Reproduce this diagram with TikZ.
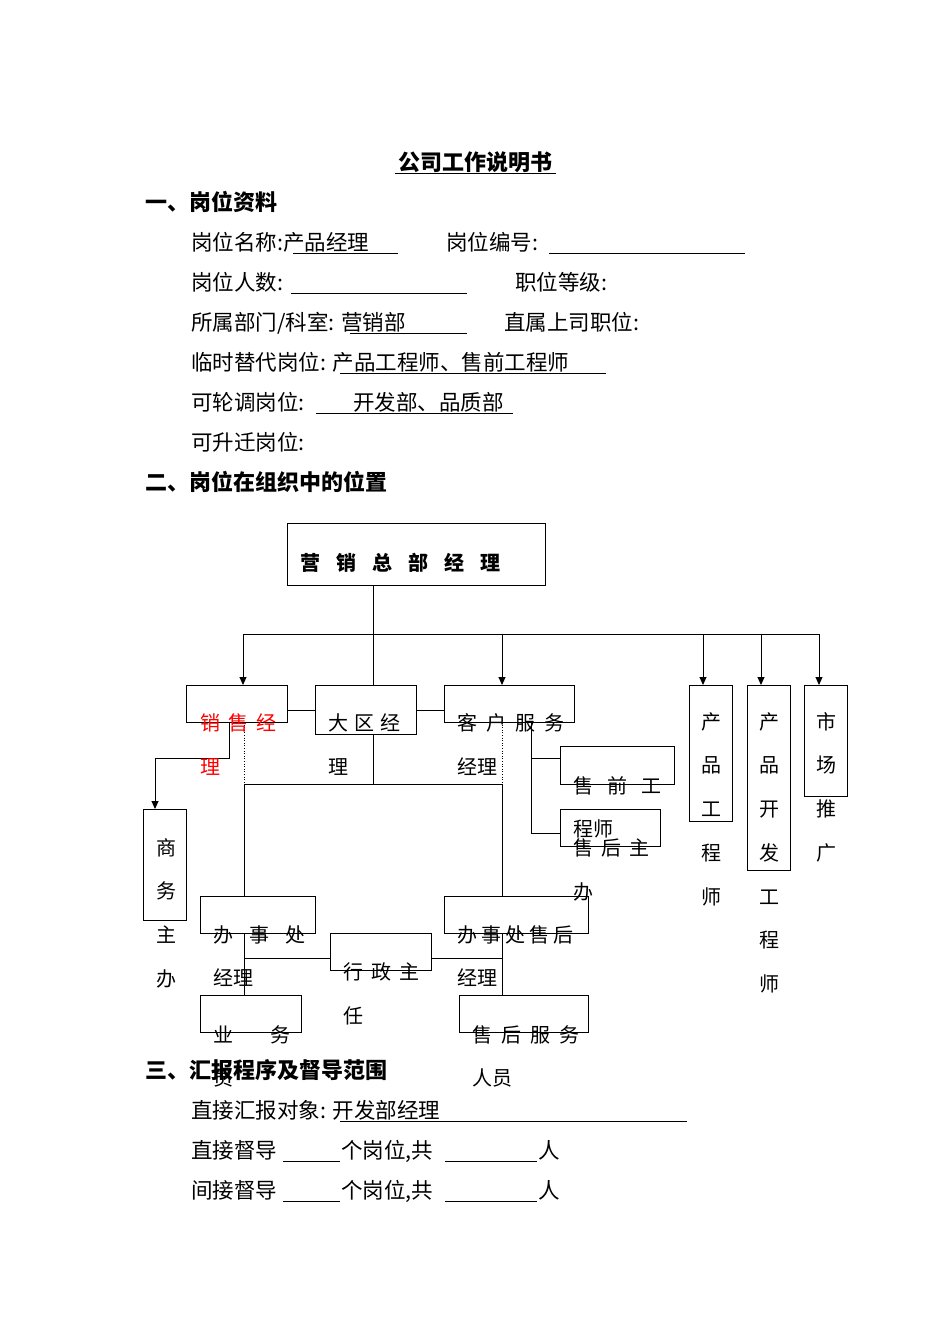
\documentclass[tikz,border=0pt]{standalone}
\usepackage{fontspec}
\setmainfont{Noto Sans CJK SC}
\usetikzlibrary{arrows.meta}
\newcommand{\lsp}[1]{\addfontfeature{LetterSpace=#1}}
\begin{document}
\begin{tikzpicture}[x=1pt,y=-1pt,
 t/.style={anchor=base west,inner sep=0pt,font=\fontsize{21.5}{24}\selectfont},
 tb/.style={t,font=\fontsize{22}{24}\selectfont\bfseries},
 ct/.style={anchor=base west,inner sep=0pt,font=\fontsize{20}{24}\selectfont},
 c/.style={anchor=base,inner sep=0pt,font=\fontsize{20}{24}\selectfont},
 bx/.style={draw,line width=0.9pt},
 ln/.style={line width=0.9pt},
 ar/.style={ln,-{Triangle[length=8pt,width=7pt]}},
 ul/.style={line width=0.8pt}]
\useasboundingbox (0,0) rectangle (950,1344);
% header
\node[tb,anchor=base] (title) at (475,170) {公司工作说明书};
\draw[ul] (395,173) -- (556,173);
\node[tb] (h1) at (145,210) {一、岗位资料};
\node[t] (l1a) at (191,250) {岗位名称:产品经理};
\draw[ul] (293,253) -- (398,253);
\node[t] (l1b) at (446,250) {岗位编号:};
\draw[ul] (549,253) -- (745,253);
\node[t] (l2a) at (191,290) {岗位人数:};
\draw[ul] (291,293) -- (467,293);
\node[t] (l2b) at (515,290) {职位等级:};
\node[t] (l3a) at (191,330) {所属部门/科室: 营销部};
\draw[ul] (350,333) -- (467,333);
\node[t] (l3b) at (504,330) {直属上司职位:};
\node[t] (l4) at (191,370) {临时替代岗位: 产品工程师、售前工程师};
\draw[ul] (340,373) -- (606,373);
\node[t] (l5) at (191,410) {可轮调岗位:};
\node[t] (l5b) at (353,410) {开发部、品质部};
\draw[ul] (316,413) -- (513,413);
\node[t] (l6) at (191,450) {可升迁岗位:};
\node[tb] (h2) at (145,490) {二、岗位在组织中的位置};
% chart boxes
\draw[bx] (287,523) rectangle (545,585);
\node[ct,font=\fontsize{20}{24}\selectfont\bfseries\lsp{80}] (top) at (300,570) {营销总部经理};
\coordinate (tb) at (373,585);
\draw[ln] (tb) -- (373,685);
\draw[ln] (243,634) -- (819,634);
\foreach \x in {243,502,703,761,819} \draw[ar] (\x,634) -- (\x,685);
\draw[bx] (186,685) rectangle (287,722);
\draw[bx] (315,685) rectangle (416,734);
\draw[bx] (444,685) rectangle (574,722);
\draw[ln] (287,710) -- (315,710);
\draw[ln] (416,710) -- (444,710);
\draw[bx] (689,685) rectangle (732,821);
\draw[bx] (747,685) rectangle (790,870);
\draw[bx] (804,685) rectangle (847,796);
\draw[bx] (560,746) rectangle (674,784);
\draw[bx] (560,809) rectangle (660,846);
\draw[ln] (531,722) -- (531,833) -- (560,833);
\draw[ln] (531,758) -- (560,758);
\draw[ln] (229,722) -- (229,758) -- (155,758);
\draw[ar] (155,758) -- (155,809);
\draw[bx] (143,809) rectangle (186,920);
\draw[dotted,line width=0.6pt] (244,722) -- (244,784);
\draw[dotted,line width=0.6pt] (502,722) -- (502,784);
\draw[ln] (373,734) -- (373,784);
\draw[ln] (244,784) -- (502,784);
\draw[ln] (244,784) -- (244,896);
\draw[ln] (502,784) -- (502,896);
\draw[bx] (200,896) rectangle (315,933);
\draw[bx] (444,896) rectangle (588,933);
\draw[bx] (330,933) rectangle (431,970);
\draw[ln] (244,933) -- (244,995);
\draw[ln] (502,933) -- (502,995);
\draw[ln] (244,958) -- (330,958);
\draw[ln] (431,958) -- (502,958);
\draw[bx] (200,995) rectangle (301,1032);
\draw[bx] (459,995) rectangle (588,1032);
% chart texts
\node[ct,font=\fontsize{20}{24}\selectfont\lsp{42},text=red] (s1) at (200,730) {销售经};
\node[ct,text=red] (s2) at (200,774) {理};
\node[ct,font=\fontsize{20}{24}\selectfont\lsp{32}] (d1) at (328,730) {大区经};
\node[ct] (d2) at (328,774) {理};
\node[ct,font=\fontsize{20}{24}\selectfont\lsp{45}] (k1) at (457,730) {客户服务};
\node[ct] (k2) at (457,774) {经理};
\node[ct,font=\fontsize{20}{24}\selectfont\lsp{72}] (q1) at (573,793) {售前工};
\node[ct] (q2) at (573,836) {程师};
\node[ct,font=\fontsize{20}{24}\selectfont\lsp{40}] (h1a) at (573,855) {售后主};
\node[ct] (h1b) at (573,899) {办};
\foreach \ch [count=\i] in {产,品,工,程,师} \node[c] (pa\i) at (711,729+43.75*\i-43.75) {\ch};
\foreach \ch [count=\i] in {产,品,开,发,工,程,师} \node[c] (pb\i) at (769,729+43.75*\i-43.75) {\ch};
\foreach \ch [count=\i] in {市,场,推,广} \node[c] (pc\i) at (826,729+43.75*\i-43.75) {\ch};
\foreach \ch [count=\i] in {商,务,主,办} \node[c] (sw\i) at (166,855+43.75*\i-43.75) {\ch};
\node[ct,font=\fontsize{20}{24}\selectfont\lsp{80}] (b1) at (213,942) {办事处};
\node[ct] (b2) at (213,985) {经理};
\node[ct,font=\fontsize{20}{24}\selectfont\lsp{20}] (e1) at (457,942) {办事处售后};
\node[ct] (e2) at (457,985) {经理};
\node[ct,font=\fontsize{20}{24}\selectfont\lsp{42}] (x1) at (343,979) {行政主};
\node[ct] (x2) at (343,1023) {任};
\node[ct] (y1) at (213,1042) {业\hspace{37pt}务};
\node[ct] (y2) at (213,1085) {员};
\node[ct,font=\fontsize{20}{24}\selectfont\lsp{45}] (z1) at (472,1042) {售后服务};
\node[ct] (z2) at (472,1085) {人员};
% section 3
\node[tb] (h3) at (145,1078) {三、汇报程序及督导范围};
\node[t] (m1) at (191,1118) {直接汇报对象: 开发部经理};
\draw[ul] (340,1121) -- (687,1121);
\node[t] (m2a) at (191,1158) {直接督导};
\node[t] (m2b) at (341,1158) {个岗位,共};
\node[t] (m2c) at (538,1158) {人};
\draw[ul] (283,1161) -- (340,1161);
\draw[ul] (445,1161) -- (537,1161);
\node[t] (m3a) at (191,1198) {间接督导};
\node[t] (m3b) at (341,1198) {个岗位,共};
\node[t] (m3c) at (538,1198) {人};
\draw[ul] (283,1201) -- (340,1201);
\draw[ul] (445,1201) -- (537,1201);
\end{tikzpicture}
\end{document}
